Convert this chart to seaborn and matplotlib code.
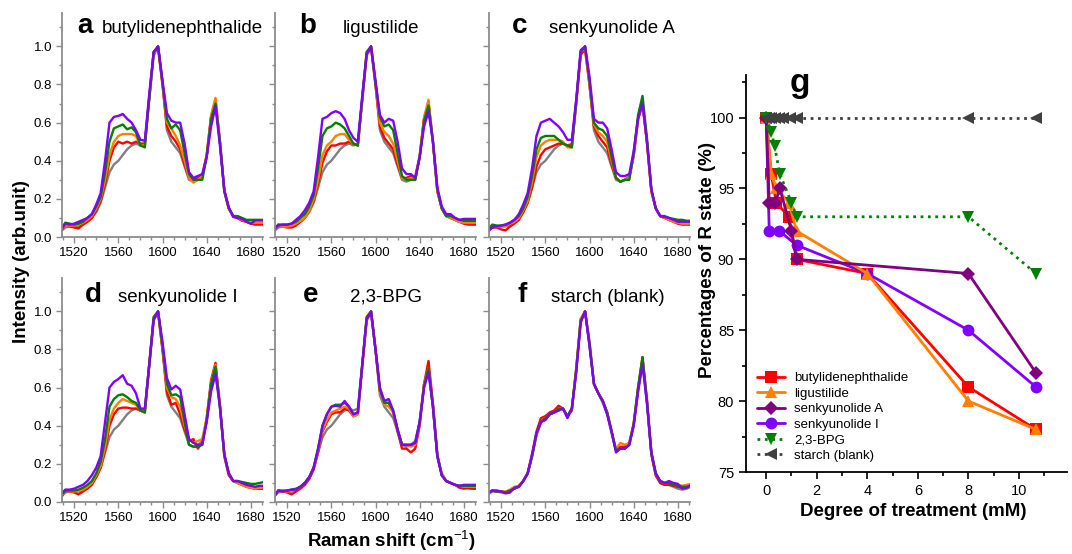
import numpy as np
import matplotlib
matplotlib.use("Agg")
import matplotlib.pyplot as plt
from matplotlib.ticker import MultipleLocator
import seaborn as sns

sns.set_style("ticks")
plt.rcParams["font.family"] = ["Liberation Sans", "DejaVu Sans"]
plt.rcParams["mathtext.fontset"] = "custom"
plt.rcParams["mathtext.rm"] = "Liberation Sans"
plt.rcParams["mathtext.bf"] = "Liberation Sans:bold"
for k in ("text.color", "axes.labelcolor", "xtick.labelcolor", "ytick.labelcolor"):
    plt.rcParams[k] = "black"

# %% Raman spectra (sampling grid 1508..1692, step 4 cm-1)
raman_shift = np.arange(1508, 1693, 4)

# untreated control, same in panels a-e
ctrl_gray = [0.03, 0.05, 0.055, 0.055, 0.055, 0.065, 0.08, 0.10, 0.13, 0.18, 0.26, 0.34,
             0.38, 0.40, 0.43, 0.46, 0.48, 0.49, 0.48, 0.49, 0.72, 0.95, 1.00, 0.80,
             0.56, 0.50, 0.47, 0.44, 0.37, 0.30, 0.29, 0.30, 0.32, 0.42, 0.62, 0.70,
             0.50, 0.24, 0.15, 0.11, 0.10, 0.09, 0.08, 0.075, 0.07, 0.07, 0.07]

a_red = [0.03, 0.06, 0.055, 0.05, 0.045, 0.065, 0.08, 0.10, 0.14, 0.19, 0.28, 0.40,
         0.47, 0.50, 0.49, 0.50, 0.49, 0.50, 0.49, 0.49, 0.73, 0.97, 0.99, 0.80,
         0.58, 0.53, 0.50, 0.46, 0.38, 0.31, 0.30, 0.31, 0.32, 0.43, 0.63, 0.72,
         0.50, 0.24, 0.15, 0.11, 0.10, 0.085, 0.08, 0.07, 0.065, 0.065, 0.065]
a_orange = [0.035, 0.06, 0.06, 0.06, 0.065, 0.075, 0.09, 0.11, 0.15, 0.20, 0.30, 0.43,
            0.50, 0.53, 0.54, 0.54, 0.54, 0.53, 0.48, 0.48, 0.73, 0.97, 1.00, 0.81,
            0.60, 0.57, 0.53, 0.48, 0.40, 0.31, 0.285, 0.30, 0.32, 0.43, 0.64, 0.73,
            0.50, 0.24, 0.15, 0.11, 0.10, 0.09, 0.08, 0.075, 0.075, 0.075, 0.075]
a_green = [0.04, 0.075, 0.07, 0.065, 0.07, 0.08, 0.10, 0.12, 0.16, 0.21, 0.34, 0.50,
           0.57, 0.58, 0.59, 0.565, 0.575, 0.55, 0.48, 0.47, 0.73, 0.97, 1.00, 0.81,
           0.62, 0.57, 0.59, 0.56, 0.44, 0.33, 0.30, 0.30, 0.30, 0.42, 0.62, 0.70,
           0.50, 0.24, 0.15, 0.11, 0.11, 0.10, 0.09, 0.09, 0.09, 0.09, 0.09]
a_violet = [0.035, 0.07, 0.065, 0.07, 0.08, 0.09, 0.10, 0.12, 0.17, 0.23, 0.40, 0.60,
            0.63, 0.635, 0.645, 0.62, 0.60, 0.56, 0.51, 0.505, 0.75, 0.97, 1.00, 0.82,
            0.65, 0.61, 0.60, 0.60, 0.49, 0.34, 0.31, 0.32, 0.33, 0.42, 0.58, 0.685,
            0.48, 0.245, 0.157, 0.105, 0.10, 0.095, 0.08, 0.07, 0.087, 0.087, 0.087]

b_red = [0.03, 0.065, 0.055, 0.05, 0.05, 0.06, 0.08, 0.10, 0.14, 0.19, 0.28, 0.39,
         0.45, 0.48, 0.48, 0.49, 0.49, 0.50, 0.49, 0.48, 0.72, 0.96, 0.99, 0.80,
         0.58, 0.52, 0.49, 0.46, 0.38, 0.31, 0.31, 0.32, 0.30, 0.42, 0.62, 0.70,
         0.50, 0.24, 0.15, 0.11, 0.10, 0.09, 0.08, 0.07, 0.065, 0.065, 0.065]
b_orange = [0.035, 0.06, 0.055, 0.055, 0.06, 0.07, 0.085, 0.10, 0.14, 0.20, 0.30, 0.43,
            0.48, 0.50, 0.53, 0.54, 0.54, 0.51, 0.49, 0.48, 0.72, 0.97, 1.00, 0.80,
            0.60, 0.55, 0.53, 0.49, 0.40, 0.31, 0.30, 0.31, 0.31, 0.43, 0.63, 0.72,
            0.50, 0.24, 0.15, 0.11, 0.10, 0.09, 0.08, 0.075, 0.075, 0.075, 0.075]
b_green = [0.04, 0.065, 0.065, 0.065, 0.07, 0.08, 0.10, 0.12, 0.16, 0.22, 0.36, 0.53,
           0.57, 0.58, 0.60, 0.59, 0.57, 0.53, 0.49, 0.48, 0.73, 0.97, 1.00, 0.81,
           0.63, 0.58, 0.59, 0.56, 0.44, 0.32, 0.30, 0.30, 0.30, 0.42, 0.61, 0.69,
           0.50, 0.25, 0.15, 0.11, 0.11, 0.10, 0.09, 0.085, 0.085, 0.085, 0.085]
b_violet = [0.04, 0.06, 0.065, 0.065, 0.07, 0.09, 0.11, 0.14, 0.18, 0.24, 0.42, 0.62,
            0.63, 0.65, 0.66, 0.65, 0.62, 0.56, 0.52, 0.50, 0.74, 0.96, 1.00, 0.82,
            0.64, 0.60, 0.62, 0.61, 0.50, 0.36, 0.33, 0.33, 0.31, 0.42, 0.58, 0.66,
            0.50, 0.26, 0.16, 0.12, 0.12, 0.10, 0.09, 0.095, 0.095, 0.095, 0.095]

c_red = [0.03, 0.05, 0.05, 0.04, 0.035, 0.055, 0.07, 0.09, 0.13, 0.18, 0.26, 0.37,
         0.43, 0.46, 0.47, 0.48, 0.49, 0.49, 0.48, 0.48, 0.70, 0.96, 0.98, 0.80,
         0.58, 0.53, 0.50, 0.47, 0.38, 0.31, 0.29, 0.30, 0.31, 0.43, 0.62, 0.70,
         0.50, 0.24, 0.15, 0.11, 0.10, 0.09, 0.08, 0.07, 0.065, 0.065, 0.065]
c_orange = [0.035, 0.055, 0.055, 0.055, 0.06, 0.07, 0.08, 0.10, 0.14, 0.19, 0.29, 0.42,
            0.48, 0.50, 0.51, 0.51, 0.51, 0.50, 0.47, 0.47, 0.71, 0.97, 0.99, 0.80,
            0.59, 0.55, 0.53, 0.50, 0.40, 0.31, 0.29, 0.30, 0.31, 0.43, 0.62, 0.70,
            0.50, 0.24, 0.15, 0.11, 0.10, 0.09, 0.08, 0.075, 0.07, 0.07, 0.07]
c_green = [0.04, 0.065, 0.06, 0.06, 0.065, 0.075, 0.09, 0.11, 0.15, 0.21, 0.32, 0.46,
           0.52, 0.53, 0.53, 0.53, 0.51, 0.49, 0.48, 0.47, 0.71, 0.97, 1.00, 0.82,
           0.60, 0.57, 0.56, 0.53, 0.42, 0.31, 0.29, 0.30, 0.30, 0.44, 0.64, 0.74,
           0.52, 0.25, 0.15, 0.11, 0.11, 0.10, 0.095, 0.09, 0.09, 0.085, 0.085]
c_violet = [0.03, 0.05, 0.055, 0.06, 0.065, 0.075, 0.09, 0.12, 0.17, 0.23, 0.36, 0.53,
            0.60, 0.61, 0.62, 0.60, 0.58, 0.55, 0.51, 0.51, 0.72, 0.98, 1.00, 0.84,
            0.62, 0.60, 0.60, 0.57, 0.46, 0.34, 0.32, 0.32, 0.33, 0.45, 0.62, 0.70,
            0.50, 0.25, 0.15, 0.11, 0.105, 0.10, 0.09, 0.08, 0.08, 0.08, 0.08]

d_red = [0.02, 0.06, 0.055, 0.05, 0.04, 0.055, 0.07, 0.09, 0.13, 0.18, 0.27, 0.40,
         0.46, 0.49, 0.495, 0.495, 0.49, 0.49, 0.48, 0.47, 0.72, 0.96, 0.99, 0.80,
         0.58, 0.51, 0.52, 0.46, 0.38, 0.32, 0.33, 0.28, 0.31, 0.44, 0.64, 0.73,
         0.51, 0.24, 0.14, 0.11, 0.10, 0.09, 0.08, 0.075, 0.07, 0.07, 0.07]
d_orange = [0.03, 0.06, 0.055, 0.055, 0.06, 0.065, 0.08, 0.10, 0.14, 0.19, 0.29, 0.43,
            0.49, 0.52, 0.54, 0.53, 0.52, 0.51, 0.48, 0.47, 0.72, 0.97, 1.00, 0.81,
            0.60, 0.55, 0.54, 0.50, 0.40, 0.33, 0.31, 0.32, 0.33, 0.44, 0.63, 0.72,
            0.50, 0.24, 0.15, 0.11, 0.10, 0.09, 0.08, 0.075, 0.07, 0.075, 0.075]
d_green = [0.035, 0.06, 0.06, 0.06, 0.065, 0.075, 0.09, 0.11, 0.15, 0.21, 0.33, 0.50,
           0.54, 0.56, 0.565, 0.55, 0.53, 0.52, 0.48, 0.47, 0.72, 0.97, 1.00, 0.82,
           0.62, 0.56, 0.565, 0.55, 0.42, 0.30, 0.29, 0.29, 0.30, 0.43, 0.62, 0.71,
           0.50, 0.25, 0.15, 0.11, 0.11, 0.105, 0.10, 0.095, 0.095, 0.10, 0.105]
d_violet = [0.04, 0.065, 0.065, 0.07, 0.08, 0.09, 0.11, 0.14, 0.18, 0.24, 0.42, 0.60,
            0.63, 0.645, 0.665, 0.62, 0.61, 0.57, 0.49, 0.49, 0.72, 0.96, 1.00, 0.84,
            0.65, 0.59, 0.61, 0.59, 0.46, 0.33, 0.31, 0.30, 0.30, 0.42, 0.58, 0.67,
            0.50, 0.25, 0.15, 0.11, 0.11, 0.10, 0.09, 0.085, 0.08, 0.085, 0.085]

e_red = [0.025, 0.06, 0.055, 0.05, 0.04, 0.055, 0.07, 0.09, 0.12, 0.17, 0.26, 0.37,
         0.42, 0.46, 0.47, 0.47, 0.49, 0.48, 0.45, 0.46, 0.71, 0.96, 0.99, 0.80,
         0.58, 0.52, 0.52, 0.47, 0.37, 0.28, 0.28, 0.26, 0.28, 0.40, 0.62, 0.74,
         0.52, 0.25, 0.14, 0.11, 0.10, 0.09, 0.075, 0.07, 0.075, 0.07, 0.07]
e_orange = [0.03, 0.06, 0.055, 0.055, 0.06, 0.065, 0.08, 0.10, 0.13, 0.18, 0.27, 0.38,
            0.43, 0.47, 0.48, 0.49, 0.50, 0.49, 0.45, 0.46, 0.72, 0.97, 1.00, 0.80,
            0.58, 0.51, 0.50, 0.47, 0.38, 0.30, 0.30, 0.29, 0.30, 0.42, 0.62, 0.70,
            0.50, 0.24, 0.15, 0.11, 0.10, 0.09, 0.085, 0.08, 0.08, 0.08, 0.08]
e_green = [0.03, 0.06, 0.06, 0.06, 0.065, 0.07, 0.08, 0.10, 0.13, 0.18, 0.28, 0.40,
           0.46, 0.50, 0.51, 0.51, 0.52, 0.50, 0.46, 0.47, 0.72, 0.97, 1.00, 0.80,
           0.59, 0.52, 0.52, 0.48, 0.38, 0.30, 0.30, 0.30, 0.31, 0.42, 0.61, 0.70,
           0.50, 0.24, 0.14, 0.11, 0.10, 0.09, 0.085, 0.085, 0.085, 0.085, 0.085]
e_violet = [0.03, 0.06, 0.055, 0.06, 0.065, 0.065, 0.08, 0.10, 0.13, 0.18, 0.28, 0.40,
            0.46, 0.50, 0.505, 0.50, 0.53, 0.50, 0.46, 0.47, 0.72, 0.96, 1.00, 0.80,
            0.60, 0.53, 0.54, 0.48, 0.38, 0.30, 0.30, 0.30, 0.31, 0.42, 0.60, 0.68,
            0.50, 0.24, 0.14, 0.11, 0.10, 0.09, 0.085, 0.09, 0.09, 0.09, 0.09]

f_gray = [0.04, 0.055, 0.055, 0.05, 0.05, 0.06, 0.07, 0.08, 0.11, 0.15, 0.24, 0.35,
          0.42, 0.43, 0.46, 0.47, 0.48, 0.49, 0.45, 0.49, 0.70, 0.96, 1.00, 0.84,
          0.62, 0.57, 0.52, 0.46, 0.36, 0.27, 0.28, 0.29, 0.30, 0.40, 0.58, 0.74,
          0.52, 0.25, 0.14, 0.10, 0.09, 0.09, 0.08, 0.07, 0.065, 0.07, 0.08]
f_red = [0.05, 0.06, 0.055, 0.055, 0.05, 0.06, 0.07, 0.085, 0.11, 0.15, 0.25, 0.37,
         0.44, 0.45, 0.47, 0.48, 0.505, 0.49, 0.45, 0.48, 0.70, 0.95, 1.00, 0.82,
         0.62, 0.57, 0.53, 0.47, 0.37, 0.27, 0.29, 0.29, 0.31, 0.41, 0.60, 0.76,
         0.54, 0.25, 0.14, 0.10, 0.09, 0.09, 0.085, 0.08, 0.075, 0.08, 0.085]
f_orange = [0.04, 0.06, 0.06, 0.055, 0.055, 0.065, 0.08, 0.085, 0.11, 0.15, 0.24, 0.35,
            0.42, 0.44, 0.46, 0.47, 0.49, 0.49, 0.45, 0.49, 0.70, 0.96, 1.00, 0.84,
            0.62, 0.57, 0.53, 0.47, 0.37, 0.28, 0.31, 0.30, 0.31, 0.41, 0.60, 0.74,
            0.53, 0.26, 0.15, 0.11, 0.10, 0.10, 0.095, 0.09, 0.085, 0.09, 0.095]
f_green = [0.045, 0.06, 0.055, 0.055, 0.05, 0.06, 0.07, 0.08, 0.11, 0.15, 0.24, 0.36,
           0.42, 0.44, 0.46, 0.47, 0.49, 0.49, 0.45, 0.49, 0.69, 0.95, 1.00, 0.83,
           0.62, 0.57, 0.53, 0.47, 0.37, 0.27, 0.28, 0.28, 0.30, 0.41, 0.60, 0.76,
           0.53, 0.26, 0.15, 0.11, 0.10, 0.10, 0.09, 0.085, 0.08, 0.08, 0.085]
f_violet = [0.05, 0.06, 0.06, 0.055, 0.045, 0.05, 0.075, 0.08, 0.11, 0.15, 0.25, 0.36,
            0.42, 0.43, 0.46, 0.47, 0.48, 0.49, 0.44, 0.49, 0.68, 0.94, 1.00, 0.82,
            0.62, 0.57, 0.53, 0.46, 0.37, 0.26, 0.28, 0.28, 0.30, 0.40, 0.58, 0.72,
            0.52, 0.26, 0.15, 0.11, 0.10, 0.11, 0.10, 0.095, 0.07, 0.075, 0.09]

# %% Panel g: percentage of R state vs degree of treatment
butyl_x = [0, 0.2, 0.4, 0.9, 1.2, 4, 8, 10.67]
butyl_y = [100, 96, 94, 93, 90, 89, 81, 78]
ligu_x = [0, 0.2, 0.4, 0.9, 1.2, 4, 8, 10.67]
ligu_y = [100, 96, 95, 94, 92, 89, 80, 78]
senkA_x = [0, 0.12, 0.36, 0.54, 1.0, 1.2, 8, 10.67]
senkA_y = [100, 94, 94, 95, 92, 90, 89, 82]
senkI_x = [0, 0.12, 0.52, 1.2, 4, 8, 10.67]
senkI_y = [100, 92, 92, 91, 89, 85, 81]
bpg_x = [0, 0.2, 0.33, 0.54, 1.0, 1.2, 8, 10.67]
bpg_y = [100, 99, 98, 96, 94, 93, 93, 89]
starch_x = [0, 0.1, 0.2, 0.33, 0.5, 0.67, 0.93, 1.2, 8, 10.67]
starch_y = [100, 100, 100, 100, 100, 100, 100, 100, 100, 100]

spec_colors = ["#808080", "#ff0000", "#ff8000", "#008000", "#8000ff"]
panels = [
    ("a", "butylidenephthalide", [ctrl_gray, a_red, a_orange, a_green, a_violet]),
    ("b", "ligustilide", [ctrl_gray, b_red, b_orange, b_green, b_violet]),
    ("c", "senkyunolide A", [ctrl_gray, c_red, c_orange, c_green, c_violet]),
    ("d", "senkyunolide I", [ctrl_gray, d_red, d_orange, d_green, d_violet]),
    ("e", "2,3-BPG", [ctrl_gray, e_red, e_orange, e_green, e_violet]),
    ("f", "starch (blank)", [f_gray, f_red, f_orange, f_green, f_violet]),
]

W, H = 1072, 554
fig = plt.figure(figsize=(W / 100, H / 100), dpi=100)

lefts = [62, 275, 489]
tops = [13, 278]
letter_pos = [(0.075, 0.20), (0.12, 0.337), (0.115, 0.30),
              (0.115, 0.28), (0.14, 0.373), (0.14, 0.31)]
spine_gray = "#8c8c8c"

for i, (letter, title, curves) in enumerate(panels):
    row, col = divmod(i, 3)
    ax = fig.add_axes([lefts[col] / W, 1 - (tops[row] + 224) / H, 201 / W, 224 / H])
    for y, c in zip(curves, spec_colors):
        sns.lineplot(x=raman_shift, y=y, color=c, lw=1.7, ax=ax)
    ax.set_xlim(1509, 1691)
    ax.set_ylim(0, 1.175)
    ax.xaxis.set_minor_locator(MultipleLocator(10))
    ax.yaxis.set_major_locator(MultipleLocator(0.2))
    ax.yaxis.set_minor_locator(MultipleLocator(0.1))
    ax.set_xticks([1520, 1560, 1600, 1640, 1680])
    sns.despine(ax=ax)
    for s in ("left", "bottom"):
        ax.spines[s].set_color(spine_gray)
        ax.spines[s].set_linewidth(1.3)
    ax.tick_params(which="major", direction="out", length=4, width=1,
                   color=spine_gray, labelsize=9.5, pad=3)
    ax.tick_params(which="minor", direction="out", length=2.5, width=1,
                   color=spine_gray)
    if col != 0:
        ax.set_yticklabels([])
    ax.set_xlabel("")
    ax.set_ylabel("")
    lx, tx = letter_pos[i]
    yb = 0.91 if row == 0 else 0.893
    ax.text(lx, yb, letter, transform=ax.transAxes, fontsize=20,
            fontweight="bold", va="baseline", ha="left")
    ax.text(tx, yb, title, transform=ax.transAxes, fontsize=13.5,
            va="baseline", ha="left", clip_on=False)

fig.text(22 / W, 1 - 262 / H, "Intensity (arb.unit)", rotation=90,
         ha="center", va="center", fontsize=13.5, fontweight="bold")
fig.text(391 / W, 1 - 541 / H, r"Raman shift (cm$^{-1}$)",
         ha="center", va="center", fontsize=13.5, fontweight="bold")

# %% panel g
axg = fig.add_axes([746 / W, 1 - 472 / H, 321 / W, 397 / H])
series = [
    (butyl_x, butyl_y, "butylidenephthalide", "#ff0000", "s", "-", 8, 2),
    (ligu_x, ligu_y, "ligustilide", "#ff8000", "^", "-", 9, 4),
    (senkA_x, senkA_y, "senkyunolide A", "#800080", "D", "-", 7.5, 5),
    (senkI_x, senkI_y, "senkyunolide I", "#8000ff", "o", "-", 8.5, 3),
    (bpg_x, bpg_y, "2,3-BPG", "#008000", "v", ":", 9, 6),
    (starch_x, starch_y, "starch (blank)", "#404040", "<", ":", 9, 7),
]
for x, y, lab, c, m, ls, ms, z in series:
    sns.lineplot(x=x, y=y, color=c, marker=m, markersize=ms, markeredgewidth=0,
                 linestyle=ls, lw=2, label=lab, zorder=z, sort=False, ax=axg)

axg.set_xlim(-0.8, 11.9)
axg.set_ylim(75, 103)
axg.xaxis.set_major_locator(MultipleLocator(2))
axg.xaxis.set_minor_locator(MultipleLocator(1))
axg.yaxis.set_major_locator(MultipleLocator(5))
axg.yaxis.set_minor_locator(MultipleLocator(2.5))
sns.despine(ax=axg)
for s in ("left", "bottom"):
    axg.spines[s].set_color("black")
    axg.spines[s].set_linewidth(1.3)
axg.tick_params(which="major", direction="out", length=5, width=1.2,
                color="black", labelsize=10.5)
axg.tick_params(which="minor", direction="out", length=3, width=1.2, color="black")
axg.set_xlabel("")
axg.set_ylabel("")
axg.text(0.137, 0.957, "g", transform=axg.transAxes, fontsize=24,
         fontweight="bold", va="baseline", ha="left", clip_on=False)
axg.legend(loc="lower left", bbox_to_anchor=(0.035, 0.025), frameon=False,
           fontsize=9.5, handlelength=2.1, handletextpad=0.7, labelspacing=0.25,
           borderpad=0, borderaxespad=0)

fig.text(708 / W, 1 - 260 / H, "Percentages of R state (%)", rotation=90,
         ha="center", va="center", fontsize=13.5, fontweight="bold")
fig.text(913 / W, 1 - 512 / H, "Degree of treatment (mM)",
         ha="center", va="center", fontsize=13.5, fontweight="bold")

fig.savefig("out.png", dpi=100)
